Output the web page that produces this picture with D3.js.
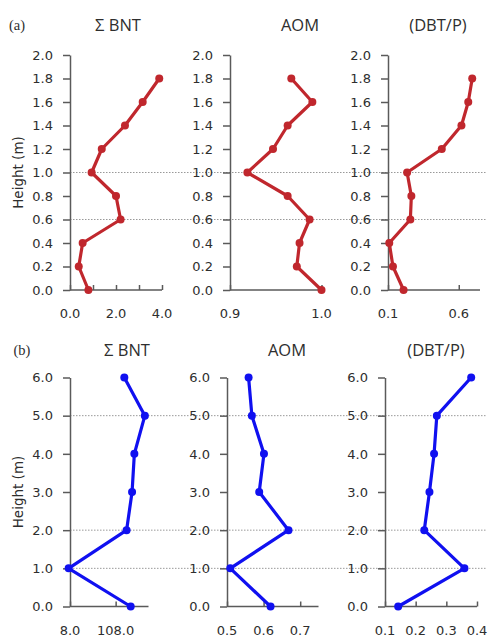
<!DOCTYPE html>
<html>
<head>
<meta charset="utf-8">
<script src="https://cdn.jsdelivr.net/npm/d3@7"></script>
<style>
  body { margin: 0; background: #fff; }
  svg text { fill: #2e2e2e; }
  .tick text { font-family: "DejaVu Sans", sans-serif; font-size: 13px; }
  .domain, .tick line { stroke: #5a5a5a; stroke-width: 1.5; }
</style>
</head>
<body>
<svg id="chart" width="490" height="638"></svg>
<script>
// heights (m)
var heightA = [0, 0.2, 0.4, 0.6, 0.8, 1.0, 1.2, 1.4, 1.6, 1.8];
var heightB = [0, 1, 2, 3, 4, 5, 6];

// (a) profiles
var bntA = [0.8, 0.38, 0.55, 2.2, 2.0, 0.94, 1.38, 2.39, 3.16, 3.88];
var aomA = [1.0, 0.973, 0.976, 0.987, 0.963, 0.919, 0.947, 0.963, 0.990, 0.967];
var dbtA = [0.21, 0.135, 0.109, 0.258, 0.265, 0.235, 0.48, 0.619, 0.667, 0.695];

// (b) profiles
var bntB = [141, 5, 132, 144, 149, 172, 127];
var aomB = [0.619, 0.509, 0.668, 0.588, 0.601, 0.568, 0.559];
var dbtB = [0.143, 0.359, 0.228, 0.245, 0.26, 0.269, 0.381];

var titles = ['\u03a3 BNT', 'AOM', '(DBT/P)'];
var yTicksA = [0, 0.2, 0.4, 0.6, 0.8, 1.0, 1.2, 1.4, 1.6, 1.8, 2.0];
var yTicksB = [0, 1, 2, 3, 4, 5, 6];
var gridA = [0.6, 1.0];
var gridB = [1, 2, 5];

var svg = d3.select('#chart');

var rows = [
    { label: '(a)', heights: heightA, yTicks: yTicksA, grid: gridA, color: '#c0272d',
      top: 55, bottom: 290, yMax: 2, labelY: 25, xLabelY: 318,
      panels: [
        { values: bntA, domain: [0, 4], range: [70, 162], ticks: [0, 1, 2, 3, 4], labels: [0, 2, 4], titleX: 118 },
        { values: aomA, domain: [0.9, 1.0], range: [230, 321.5], ticks: [0.9, 1.0], labels: [0.9, 1.0], titleX: 300 },
        { values: dbtA, domain: [0.1, 0.75], range: [388, 480], ticks: [0.1, 0.6], labels: [0.1, 0.6], titleX: 438 }
      ] },
    { label: '(b)', heights: heightB, yTicks: yTicksB, grid: gridB, color: '#1010f0',
      top: 377.5, bottom: 606.5, yMax: 6, labelY: 350, xLabelY: 635,
      panels: [
        { values: bntB, domain: [8, 180], range: [70, 148.5], ticks: [8, 108], labels: [8, 108], titleX: 127 },
        { values: aomB, domain: [0.5, 0.75], range: [227, 318.5], ticks: [0.5, 0.6, 0.7], labels: [0.5, 0.6, 0.7], titleX: 287 },
        { values: dbtB, domain: [0.1, 0.4], range: [385, 477], ticks: [0.1, 0.2, 0.3, 0.4], labels: [0.1, 0.2, 0.3, 0.4], titleX: 436 }
      ] }
];

rows.forEach(function(row){
    var y = d3.scaleLinear().domain([0, row.yMax]).range([row.bottom, row.top]);

    // dotted reference lines across all panels
    svg.append('g').selectAll('line')
        .data(row.grid)
        .enter().append('line')
        .attr('x1', 70).attr('x2', 487)
        .attr('y1', function(d){ return y(d); })
        .attr('y2', function(d){ return y(d); })
        .style('stroke', '#999')
        .style('stroke-width', 1)
        .style('stroke-dasharray', '1.5,1.5');

    svg.append('text')
        .attr('x', row.label === '(a)' ? 17 : 22).attr('y', row.labelY)
        .attr('text-anchor', 'middle').attr('dy', '0.35em')
        .style('font-family', '"Liberation Serif", serif')
        .style('font-size', '14.5px')
        .text(row.label);

    svg.append('text')
        .attr('transform', 'translate(18,' + ((row.top + row.bottom) / 2) + ') rotate(-90)')
        .attr('text-anchor', 'middle').attr('dy', '0.35em')
        .style('font-family', '"DejaVu Sans", sans-serif')
        .style('font-size', '13.5px')
        .text('Height (m)');

    row.panels.forEach(function(p, i){
        var x = d3.scaleLinear().domain(p.domain).range(p.range);
        var fmt = d3.format('.1f');

        svg.append('text')
            .attr('x', p.titleX).attr('y', row.labelY)
            .attr('text-anchor', 'middle').attr('dy', '0.35em')
            .style('font-family', '"Open Sans", sans-serif')
            .style('font-size', '16.5px')
            .text(titles[i]);

        // y axis
        svg.append('g')
            .attr('transform', 'translate(' + p.range[0] + ',0)')
            .call(d3.axisLeft(y).tickValues(row.yTicks).tickFormat(d3.format('.1f'))
                .tickSizeInner(7).tickSizeOuter(0).tickPadding(10));

        // x axis, ticks pointing inward
        var xa = svg.append('g')
            .attr('transform', 'translate(0,' + row.bottom + ')')
            .call(d3.axisBottom(x).tickValues(p.ticks).tickFormat('')
                .tickSizeInner(-5).tickSizeOuter(0));
        xa.select('.domain').attr('d', 'M' + p.range[0] + ',0H' + p.range[1]);

        svg.append('g').selectAll('text')
            .data(p.labels)
            .enter().append('text')
            .attr('x', function(d){ return x(d); })
            .attr('y', row.xLabelY)
            .attr('text-anchor', 'middle')
            .style('font-family', '"DejaVu Sans", sans-serif')
            .style('font-size', '13px')
            .text(function(d){ return fmt(d); });

        var pts = p.values.map(function(v, k){ return [v, row.heights[k]]; });

        svg.append('path')
            .datum(pts)
            .attr('d', d3.line()
                .x(function(d){ return x(d[0]); })
                .y(function(d){ return y(d[1]); }))
            .style('fill', 'none')
            .style('stroke', row.color)
            .style('stroke-width', 3.2)
            .style('stroke-linejoin', 'round');

        svg.append('g').selectAll('circle')
            .data(pts)
            .enter().append('circle')
            .attr('cx', function(d){ return x(d[0]); })
            .attr('cy', function(d){ return y(d[1]); })
            .attr('r', 4)
            .style('fill', row.color);
    });
});
</script>
</body>
</html>
